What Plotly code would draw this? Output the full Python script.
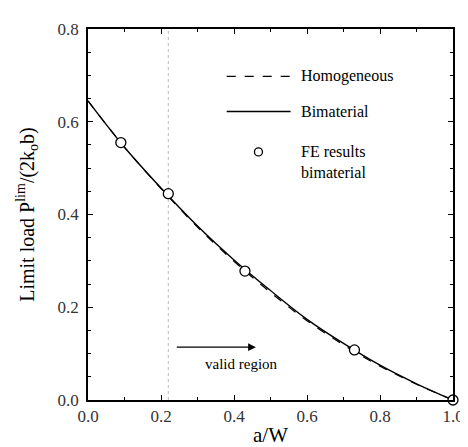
import plotly.graph_objects as go

# Data
x_curve = [0.0, 0.1, 0.2, 0.3, 0.4, 0.5, 0.6, 0.7, 0.8, 0.9, 1.0]
y_bimaterial = [0.645, 0.545, 0.457, 0.375, 0.302, 0.236, 0.174, 0.122, 0.075, 0.035, 0.0]
y_homogeneous = [0.645, 0.545, 0.456, 0.373, 0.299, 0.232, 0.171, 0.119, 0.073, 0.034, 0.0]
x_fe = [0.09, 0.22, 0.43, 0.73, 1.0]
y_fe = [0.555, 0.445, 0.278, 0.108, 0.0]
x_ticks = [0.0, 0.2, 0.4, 0.6, 0.8, 1.0]
x_ticklabels = ["0.0", "0.2", "0.4", "0.6", "0.8", "1.0"]
y_ticks = [0.0, 0.2, 0.4, 0.6, 0.8]
y_ticklabels = ["0.0", "0.2", "0.4", "0.6", "0.8"]
valid_limit = 0.22

FONT = "Liberation Serif"

fig = go.Figure()

fig.add_trace(go.Scatter(x=[valid_limit, valid_limit], y=[0, 0.8], mode="lines",
                         line=dict(color="#bbbbbb", width=1, dash="dot"), showlegend=False))
fig.add_trace(go.Scatter(x=x_curve, y=y_homogeneous, mode="lines", line_shape="spline",
                         line=dict(color="black", width=1.2, dash="dash"), showlegend=False))
fig.add_trace(go.Scatter(x=x_curve, y=y_bimaterial, mode="lines", line_shape="spline",
                         line=dict(color="black", width=1.4), showlegend=False))
fig.add_trace(go.Scatter(x=x_fe, y=y_fe, mode="markers", cliponaxis=False,
                         marker=dict(symbol="circle", size=10, color="white",
                                     line=dict(color="black", width=1.3)), showlegend=False))

# legend drawn inside
fig.add_trace(go.Scatter(x=[0.38, 0.555], y=[0.698, 0.698], mode="lines",
                         line=dict(color="black", width=1.2, dash="dash"), showlegend=False))
fig.add_trace(go.Scatter(x=[0.38, 0.555], y=[0.622, 0.622], mode="lines",
                         line=dict(color="black", width=1.4), showlegend=False))
fig.add_trace(go.Scatter(x=[0.467], y=[0.535], mode="markers",
                         marker=dict(symbol="circle", size=8, color="white",
                                     line=dict(color="black", width=1.3)), showlegend=False))

legend_texts = [("Homogeneous", 0.698), ("Bimaterial", 0.622), ("FE results", 0.535), ("bimaterial", 0.49)]
for t, yy in legend_texts:
    fig.add_annotation(x=0.578, y=yy, text=t, showarrow=False, xanchor="left",
                       font=dict(family=FONT, size=16, color="black"))

fig.add_annotation(x=0.46, y=0.114, ax=0.235, ay=0.114, xref="x", yref="y", axref="x", ayref="y",
                   text=" ", showarrow=True, arrowhead=2, arrowsize=1.2, arrowwidth=1.3, arrowcolor="black")
fig.add_annotation(x=0.42, y=0.078, text="valid region", showarrow=False,
                   font=dict(family=FONT, size=15, color="black"))

axis_common = dict(showline=True, linecolor="black", linewidth=1.5, mirror="allticks",
                   ticks="inside", ticklen=5, tickcolor="black", showgrid=False, zeroline=False,
                   tickfont=dict(family=FONT, size=17, color="#333"))

fig.update_xaxes(range=[0, 1], tickvals=x_ticks, ticktext=x_ticklabels,
                 minor=dict(dtick=0.1, ticks="inside", ticklen=3, tickcolor="black"),
                 title=dict(text="a/W", font=dict(family=FONT, size=21, color="black"), standoff=2),
                 **axis_common)
fig.update_yaxes(range=[0, 0.8], tickvals=y_ticks, ticktext=y_ticklabels,
                 minor=dict(dtick=0.05, ticks="inside", ticklen=3, tickcolor="black"),
                 ticklabelstandoff=4,
                 title=dict(text="Limit load P<sup>lim</sup>/(2k<sub>o</sub>b)",
                            font=dict(family=FONT, size=20, color="black"), standoff=18),
                 **axis_common)

fig.update_layout(width=468, height=447, margin=dict(l=80, r=13, t=15, b=54),
                  plot_bgcolor="white", paper_bgcolor="white",
                  font=dict(family=FONT))

fig.write_html("out.html")
